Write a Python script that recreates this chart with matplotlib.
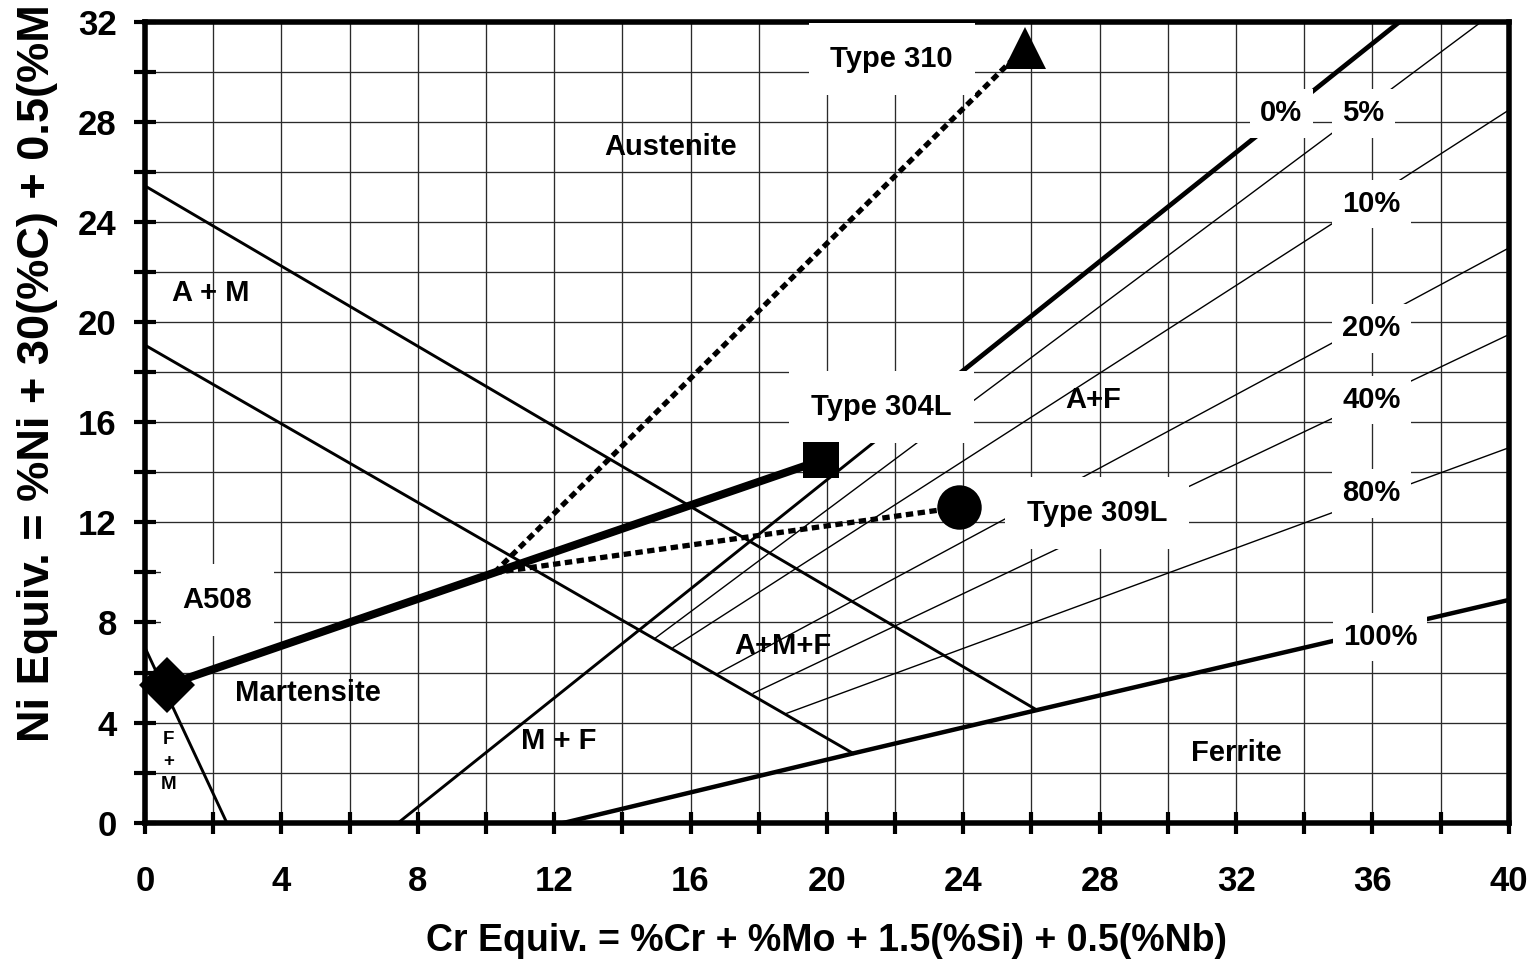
import matplotlib
matplotlib.use('Agg')
import matplotlib.pyplot as plt
from matplotlib.ticker import MultipleLocator

plt.rcParams['font.family'] = ['Liberation Sans', 'DejaVu Sans']
plt.rcParams['font.weight'] = 'bold'

# phase boundaries, (Cr equiv, Ni equiv)
am_upper_x = [0.0, 26.16]
am_upper_y = [25.44, 4.5]
am_lower_x = [0.0, 20.77]
am_lower_y = [19.08, 2.77]
fm_x = [0.0, 2.4]
fm_y = [7.0, 0.0]
zero_x = [7.43, 36.8]
zero_y = [0.0, 32.0]
zero_upper_x = [22.1, 36.8]
zero_upper_y = [16.0, 32.0]
full_x = [12.3, 20.77, 26.16, 40.0]
full_y = [0.0, 2.77, 4.5, 8.9]

# iso-ferrite lines between the lower A+M boundary and the plot edge
iso_names = ['5%', '10%', '20%', '40%', '80%']
iso_x0 = [14.96, 15.49, 16.81, 17.84, 18.82]
iso_y0 = [7.37, 7.0, 5.97, 5.17, 4.37]
iso_x1 = [39.2, 40.0, 40.0, 40.0, 40.0]
iso_y1 = [32.0, 28.47, 22.96, 19.5, 14.98]

# alloys
alloys = ['A508', 'Type 304L', 'Type 309L', 'Type 310']
cr_eq = [0.65, 19.84, 23.87, 25.8]
ni_eq = [5.5, 14.48, 12.6, 30.96]

fig = plt.figure(figsize=(15.37, 9.59), dpi=100)
ax = fig.add_axes([0.0943, 0.1421, 0.8874, 0.8353])
ax.set_xlim(0, 40)
ax.set_ylim(0, 32)
ax.xaxis.set_major_locator(MultipleLocator(4))
ax.xaxis.set_minor_locator(MultipleLocator(2))
ax.yaxis.set_major_locator(MultipleLocator(4))
ax.yaxis.set_minor_locator(MultipleLocator(2))
ax.set_axisbelow(True)
ax.grid(which='both', color='#2a2a2a', linewidth=0.95)
ax.tick_params(which='both', direction='inout', length=16.5, width=3,
               labelsize=25, pad=12, top=False, right=False)
ax.tick_params(axis='x', which='both', pad=22)
for s in ax.spines.values():
    s.set_linewidth(4)

# boundaries
ax.plot(am_upper_x, am_upper_y, color='black', lw=2.1, zorder=2)
ax.plot(am_lower_x, am_lower_y, color='black', lw=2.1, zorder=2)
ax.plot(fm_x, fm_y, color='black', lw=2.1, zorder=2)
ax.plot(zero_x, zero_y, color='black', lw=2.1, zorder=2)
ax.plot(zero_upper_x, zero_upper_y, color='black', lw=3.4, zorder=2)
ax.plot(full_x, full_y, color='black', lw=3.2, zorder=2)
for i in range(len(iso_names)):
    ax.plot([iso_x0[i], iso_x1[i]], [iso_y0[i], iso_y1[i]], color='black', lw=1.0, zorder=2)

# dilution lines
mix_x = (cr_eq[0] + cr_eq[1]) / 2
mix_y = (ni_eq[0] + ni_eq[1]) / 2
ax.plot(cr_eq[:2], ni_eq[:2], color='black', lw=5.8, solid_capstyle='butt', zorder=3)
dots = (0, (1.4, 0.85))
ax.plot([mix_x, cr_eq[3]], [mix_y, ni_eq[3]], color='black', lw=3.8, ls=dots, zorder=3)
ax.plot([mix_x, cr_eq[2]], [mix_y, ni_eq[2]], color='black', lw=3.8, ls=dots, zorder=3)

markers = ['D', 's', 'o', '^']
sizes = [29, 26, 32, 30]
for i in range(len(alloys)):
    ax.plot(cr_eq[i], ni_eq[i], marker=markers[i], ms=sizes[i], color='black',
            mew=0, ls='none', zorder=6, clip_on=False)

big_box = dict(boxstyle='square,pad=0.75', fc='white', ec='none')
small_box = dict(boxstyle='square,pad=0.35', fc='white', ec='none')

def label(x, y, s, box=None, size=21):
    ax.text(x, y, s, ha='center', va='center', fontsize=size, fontweight='bold',
            bbox=box, zorder=5)

label(21.9, 30.5, 'Type 310', big_box)
label(21.6, 16.62, 'Type 304L', big_box)
label(27.93, 12.38, 'Type 309L', big_box)
label(2.13, 8.9, 'A508', big_box)
label(15.42, 26.98, 'Austenite')
label(4.79, 5.18, 'Martensite')
label(1.93, 21.15, 'A + M')
label(12.14, 3.27, 'M + F')
label(32.01, 2.77, 'Ferrite')
label(18.7, 7.07, 'A+M+F')
label(27.81, 16.89, 'A+F')
ax.text(0.7, 2.43, 'F\n+\nM', ha='center', va='center', fontsize=13.5,
        fontweight='bold', linespacing=1.45, zorder=5)

label(33.33, 28.34, '0%', small_box)
label(35.73, 28.34, '5%', small_box)
label(35.97, 24.72, '10%', small_box)
label(35.97, 19.75, '20%', small_box)
label(35.97, 16.89, '40%', small_box)
label(35.97, 13.16, '80%', small_box)
label(36.22, 7.43, '100%', small_box)

fig.text(826 / 1537, 1 - 941 / 959, 'Cr Equiv. = %Cr + %Mo + 1.5(%Si) + 0.5(%Nb)',
         ha='center', va='center', fontsize=27, fontweight='bold')
fig.text(38 / 1537, 1 - 373 / 959, 'Ni Equiv. = %Ni + 30(%C) + 0.5(%M',
         rotation=90, ha='center', va='center', fontsize=32.5, fontweight='bold')

fig.savefig('out.png', dpi=100)
